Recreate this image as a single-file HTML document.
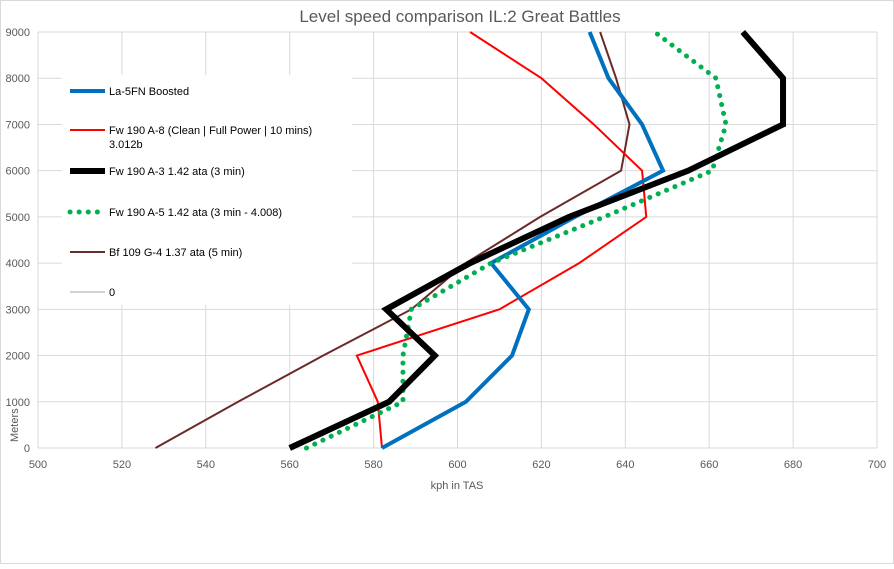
<!DOCTYPE html>
<html><head><meta charset="utf-8"><style>
body{margin:0;background:#fff;font-family:"Liberation Sans",sans-serif;}
svg text{font-family:"Liberation Sans",sans-serif;}
</style></head><body>
<svg id="c" width="894" height="564">
<rect x="0.5" y="0.5" width="893" height="563" fill="#fff" stroke="#d9d9d9"/>
<text x="460" y="22" text-anchor="middle" font-size="17" fill="#595959">Level speed comparison IL:2 Great Battles</text>
<g id="grid"></g><g id="series"></g><g id="legend"></g>
<text x="457" y="489" text-anchor="middle" font-size="11" fill="#595959">kph in TAS</text>
<text x="18" y="442" font-size="11" fill="#595959" transform="rotate(-90 18 442)" text-anchor="start">Meters</text>
</svg>
<script>
const altitudes=[0,1000,2000,3000,4000,5000,6000,7000,8000,9000];
const xTicks=[500,520,540,560,580,600,620,640,660,680,700];
const yTicks=[0,1000,2000,3000,4000,5000,6000,7000,8000,9000];
const la5=[582,602,613,617,608,628,649,644,636,631.5];
const fwA8=[582,581,576,610,629,645,644,632.5,620,603];
const fwA3=[560,583.7,594.6,583,603,626.6,655,677.6,677.6,668];
const fwA5=[564,587,587,589,608,635,660.7,664,661.6,647];
const bf109=[528,547.7,568,589,602,619.7,639,641,637.8,634];
const NS="http://www.w3.org/2000/svg";
const X0=38,X1=877,Y0=448,Y1=32;
const xs=v=>X0+(v-500)/200*(X1-X0);
const ys=v=>Y0-(v/9000)*(Y0-Y1);
function mk(t,a,p){const e=document.createElementNS(NS,t);for(const k in a)e.setAttribute(k,a[k]);p.appendChild(e);return e;}
const g=document.getElementById('grid');
xTicks.forEach(v=>{
 const l=mk('line',{x1:xs(v),x2:xs(v),y1:Y1,y2:Y0,stroke:'#d9d9d9'},g);
 
 
 const t=mk('text',{x:xs(v),y:468,'text-anchor':'middle','font-size':11,fill:'#595959'},g);t.textContent=v;
 
 
});
yTicks.forEach(v=>{
 const l=mk('line',{x1:X0,x2:X1,y1:ys(v),y2:ys(v),stroke:'#d9d9d9'},g);
 
 
 const t=mk('text',{x:30,y:ys(v)+4,'text-anchor':'end','font-size':11,fill:'#595959'},g);t.textContent=v;
 
 
});
const sg=document.getElementById('series');
const defs=[
 {d:bf109,c:'#6b2a2a',w:2,dash:null,n:'series-bf109-g4'},
 {d:fwA8,c:'#ff0000',w:2,dash:null,n:'series-fw190-a8'},
 {d:la5,c:'#0070c0',w:4,dash:null,n:'series-la5fn'},
 {d:fwA5,c:'#00b050',w:5,dash:'0.1 9',n:'series-fw190-a5'},
 {d:fwA3,c:'#000000',w:6,dash:null,n:'series-fw190-a3'}
];
defs.forEach(s=>{
 const pts=s.d.map((v,i)=>xs(v)+','+ys(altitudes[i])).join(' ');
 const a={points:pts,fill:'none',stroke:s.c,'stroke-width':s.w,'stroke-linejoin':'miter'};
 if(s.dash){a['stroke-dasharray']=s.dash;a['stroke-linecap']='round';}
 const p=mk('polyline',a,sg);
 
 
});
const lg=document.getElementById('legend');
mk('rect',{x:62,y:75,width:290,height:230,fill:'#fff'},lg);
const items=[
 {y:91,c:'#0070c0',w:4,dash:null,t:['La-5FN Boosted']},
 {y:130,c:'#ff0000',w:2,dash:null,t:['Fw 190 A-8 (Clean | Full Power | 10 mins)','3.012b']},
 {y:171,c:'#000000',w:6,dash:null,t:['Fw 190 A-3 1.42 ata (3 min)']},
 {y:212,c:'#00b050',w:5,dash:'0.1 9',t:['Fw 190 A-5 1.42 ata (3 min - 4.008)']},
 {y:252,c:'#6b2a2a',w:2,dash:null,t:['Bf 109 G-4 1.37 ata (5 min)']},
 {y:292,c:'#a5a5a5',w:1,dash:null,t:['0']}
];
items.forEach(it=>{
 const a={x1:70,x2:105,y1:it.y,y2:it.y,stroke:it.c,'stroke-width':it.w};
 if(it.dash){a['stroke-dasharray']=it.dash;a['stroke-linecap']='round';}
 const l=mk('line',a,lg);
 
 
 it.t.forEach((s,i)=>{
  const t=mk('text',{x:109,y:it.y+4+i*14,'font-size':11,fill:'#000'},lg);t.textContent=s;
  
  
 });
});
</script>
</body></html>
